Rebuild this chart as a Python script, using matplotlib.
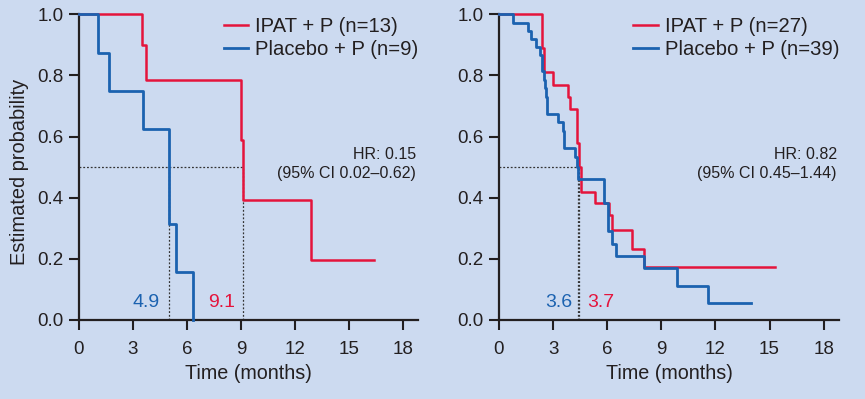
import matplotlib
matplotlib.use('Agg')
import matplotlib.pyplot as plt

plt.rcParams['font.family'] = ['Liberation Sans', 'DejaVu Sans']

# ---------------- data ----------------
# Left panel (n=13 vs n=9)
l_ipat_t = [0, 3.48, 3.72, 9.0, 9.1, 12.9, 16.4]
l_ipat_s = [1.0, 0.90, 0.786, 0.59, 0.393, 0.196, 0.196]
l_pbo_t = [0, 1.04, 1.67, 3.58, 4.98, 5.39, 6.36]
l_pbo_s = [1.0, 0.875, 0.75, 0.625, 0.3125, 0.156, 0.0]
l_labels = ['IPAT + P (n=13)', 'Placebo + P (n=9)']
l_hr = ['HR: 0.15', '(95% CI 0.02\u20130.62)']
l_med_lines = [4.98, 9.1]        # where dotted median lines drop
l_med_text = ['4.9', '9.1']

# Right panel (n=27 vs n=39)
r_ipat_t = [0, 2.38, 2.50, 2.97, 3.82, 3.94, 4.34, 4.43, 4.52, 5.33, 6.12, 6.24,
            7.39, 8.05, 15.3]
r_ipat_s = [1.0, 0.89, 0.81, 0.77, 0.73, 0.69, 0.578, 0.50, 0.42, 0.384, 0.343,
            0.294, 0.233, 0.172, 0.172]
r_pbo_t = [0, 0.78, 1.62, 1.75, 2.04, 2.27, 2.37, 2.49, 2.56, 2.60, 2.64, 3.27,
           3.54, 3.62, 4.22, 4.32, 4.40, 5.82, 6.06, 6.28, 6.47, 8.03, 9.87,
           11.6, 13.95]
r_pbo_s = [1.0, 0.973, 0.945, 0.919, 0.893, 0.866, 0.813, 0.786, 0.76, 0.728,
           0.674, 0.647, 0.618, 0.563, 0.534, 0.50, 0.46, 0.382, 0.292, 0.25,
           0.21, 0.169, 0.111, 0.054, 0.054]
r_labels = ['IPAT + P (n=27)', 'Placebo + P (n=39)']
r_hr = ['HR: 0.82', '(95% CI 0.45\u20131.44)']
r_med_lines = [4.36, 4.44]
r_med_text = ['3.6', '3.7']

x_ticks = [0, 3, 6, 9, 12, 15, 18]
y_ticks = [0.0, 0.2, 0.4, 0.6, 0.8, 1.0]

# ---------------- style ----------------
BG = '#ccdaf0'
RED = '#e4143c'
BLUE = '#1b62b0'
INK = '#231f20'

fig = plt.figure(figsize=(8.65, 3.99), dpi=100, facecolor=BG)
ax1 = fig.add_axes([79 / 865, 79 / 399, 339 / 865, 305.7 / 399])
ax2 = fig.add_axes([499 / 865, 79 / 399, 340 / 865, 305.7 / 399])


def style(ax, ylabel):
    ax.set_facecolor(BG)
    ax.set_xlim(0, 18.85)
    ax.set_ylim(0, 1.0)
    for s in ['top', 'right']:
        ax.spines[s].set_visible(False)
    for s in ['left', 'bottom']:
        ax.spines[s].set_linewidth(1.6)
        ax.spines[s].set_color(INK)
    ax.set_xticks(x_ticks)
    ax.set_yticks(y_ticks)
    ax.set_yticklabels([f'{v:.1f}' for v in y_ticks])
    ax.tick_params(direction='out', length=7, width=1.5, color=INK,
                   labelsize=13.5, labelcolor=INK, pad=4)
    ax.tick_params(axis='x', pad=8)
    ax.set_xlabel('Time (months)', fontsize=14.2, color=INK, labelpad=4.5)
    if ylabel:
        ax.set_ylabel('Estimated probability', fontsize=14.4, color=INK)
        ax.yaxis.set_label_coords(-0.148, 0.485)


def panel(ax, it, isv, pt, ps, labels, hr, med_lines, med_text, med_pos, ylabel):
    style(ax, ylabel)
    # dotted median reference lines
    ax.plot([0, max(med_lines)], [0.5, 0.5], ls=(0, (1.5, 1.5)), lw=0.9,
            color='#333333', zorder=2)
    for m in med_lines:
        ax.plot([m, m], [0, 0.5], ls=(0, (1.5, 1.5)), lw=0.9, color='#333333',
                zorder=2)
    ax.step(it, isv, where='post', color=RED, lw=1.8, clip_on=False,
            zorder=3, label=labels[0])
    ax.step(pt, ps, where='post', color=BLUE, lw=2.0, clip_on=False,
            zorder=4, label=labels[1])
    leg = ax.legend(loc='upper right', bbox_to_anchor=(1.0245, 1.018),
                    frameon=False, fontsize=14.6, handlelength=1.2,
                    handletextpad=0.35, labelspacing=0.2, borderaxespad=0)
    for t in leg.get_texts():
        t.set_color(INK)
    ax.text(18.73, 0.542, hr[0], ha='right', va='center', fontsize=11.5,
            color=INK)
    ax.text(18.73, 0.48, hr[1], ha='right', va='center', fontsize=11.5,
            color=INK)
    for (x, ha), txt, c in zip(med_pos, med_text, [BLUE, RED]):
        ax.text(x, 0.057, txt, ha=ha, va='center', fontsize=14, color=c)


panel(ax1, l_ipat_t, l_ipat_s, l_pbo_t, l_pbo_s, l_labels, l_hr,
      l_med_lines, l_med_text, [(4.5, 'right'), (8.68, 'right')], True)
panel(ax2, r_ipat_t, r_ipat_s, r_pbo_t, r_pbo_s, r_labels, r_hr,
      r_med_lines, r_med_text, [(4.06, 'right'), (4.91, 'left')], False)

fig.savefig('out.png', dpi=100, facecolor=BG)
